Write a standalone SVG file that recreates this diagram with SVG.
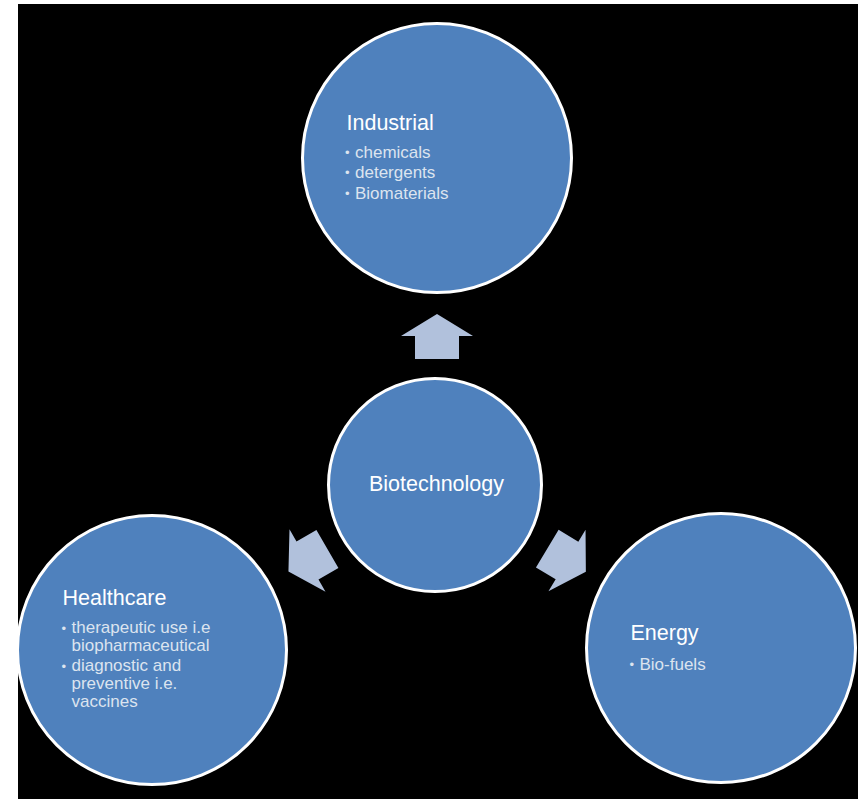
<svg xmlns="http://www.w3.org/2000/svg" width="862" height="799" viewBox="0 0 862 799">
<style>
.c{fill:#4F81BD;stroke:#FFFFFF;stroke-width:3}
.h{font-family:"Liberation Sans",Arial,sans-serif;font-size:21.5px;fill:#FFFFFF}
.b{font-family:"Liberation Sans",Arial,sans-serif;font-size:17px;fill:#DCE4EF}
.d{font-family:"Liberation Sans",Arial,sans-serif;font-size:13px;fill:#DCE4EF}
.a{fill:#B1C1DC}
</style>
<defs>
<polygon id="arr" points="0,-22 36,0 22,0 22,23 -22,23 -22,0 -36,0"/>
</defs>
<rect x="0" y="0" width="862" height="799" fill="#FFFFFF"/>
<rect x="18" y="4" width="840" height="795" fill="#000000"/>
<g id="connectors">
<use href="#arr" class="a" transform="translate(437,336)"/>
<use href="#arr" class="a" transform="translate(307.5,560.5) rotate(-120)"/>
<use href="#arr" class="a" transform="translate(567,560.5) rotate(121)"/>
</g>
<g id="industrial">
<circle class="c" cx="437" cy="158" r="134.5"/>
<text class="h" x="346.5" y="130">Industrial</text>
<text class="d" x="345" y="156.5">•</text><text class="b" x="355" y="157.5">chemicals</text>
<text class="d" x="345" y="177">•</text><text class="b" x="355" y="178">detergents</text>
<text class="d" x="345" y="197.5">•</text><text class="b" x="355" y="198.5">Biomaterials</text>
</g>
<g id="biotechnology">
<circle class="c" cx="435" cy="485" r="106.5"/>
<text class="h" x="436.5" y="491" text-anchor="middle">Biotechnology</text>
</g>
<g id="healthcare">
<circle class="c" cx="152" cy="650" r="134.5"/>
<text class="h" x="62.5" y="605">Healthcare</text>
<text class="d" x="61.5" y="632.5">•</text><text class="b" x="71.5" y="633">therapeutic use i.e</text>
<text class="b" x="71.5" y="651">biopharmaceutical</text>
<text class="d" x="61.5" y="670.5">•</text><text class="b" x="71.5" y="671">diagnostic and</text>
<text class="b" x="71.5" y="689">preventive i.e.</text>
<text class="b" x="71.5" y="707">vaccines</text>
</g>
<g id="energy">
<circle class="c" cx="721" cy="648" r="134.5"/>
<text class="h" x="630.5" y="640">Energy</text>
<text class="d" x="629.5" y="668.5">•</text><text class="b" x="639.5" y="669.5">Bio-fuels</text>
</g>
</svg>
